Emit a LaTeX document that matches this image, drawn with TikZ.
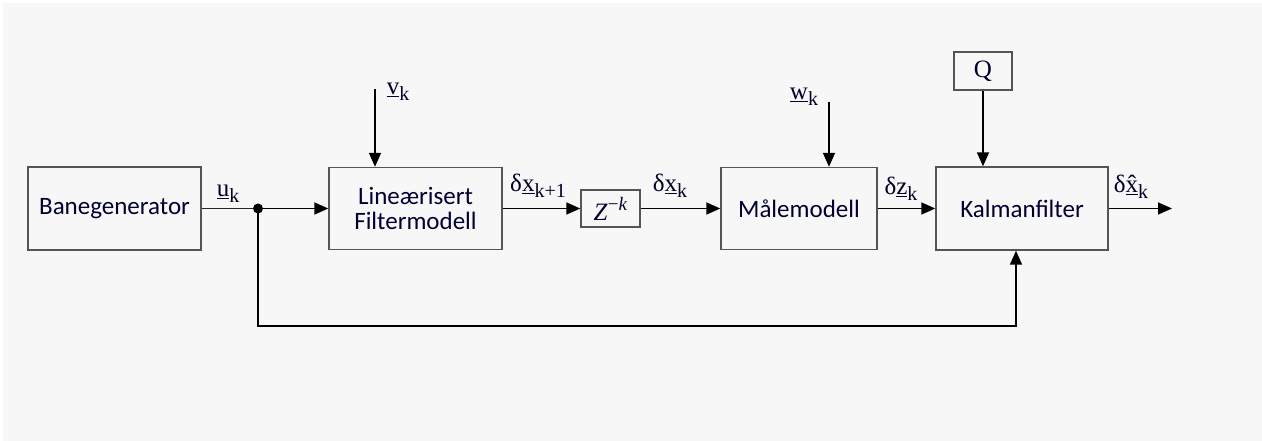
\documentclass[tikz,border=0pt]{standalone}
\usepackage{fontspec}
\setmainfont{Carlito}
\newfontfamily\labfont{Liberation Serif}
\usetikzlibrary{arrows.meta}
\definecolor{bg}{HTML}{F7F7F7}
\definecolor{boxline}{HTML}{555555}
\tikzset{
  blk/.style={draw=boxline, line width=1.4pt, fill=bg, minimum width=#1, inner sep=0pt,
     font=\fontsize{25}{25.5}\selectfont, text=black!80!blue, align=center},
  sig/.style={draw=black, line width=1.6pt, -{Triangle[length=14pt,width=12pt]}},
  wire/.style={draw=black!85, line width=1.6pt},
  lab/.style={font=\labfont\fontsize{25}{26}\selectfont, inner sep=0pt, text=black!85!blue},
}
\newcommand{\sbk}[1]{\raisebox{-0.25em}{\fontsize{20}{21}\selectfont #1}}
\begin{document}
\begin{tikzpicture}[x=1pt,y=-1pt]
\fill[white] (0,0) rectangle (1262,441);
\fill[bg] (3,3) rectangle (1262,441);
\useasboundingbox (0,0) rectangle (1262,441);

\node[blk=173pt, minimum height=83pt] (gen) at (114.5,208.5) {Banegenerator};
\node[blk=173pt, minimum height=82pt] (lin) at (415.5,208.5) {Lineærisert\\Filtermodell};
\node[blk=59pt, minimum height=37pt, font=\labfont\fontsize{25}{26}\selectfont] (z) at (610.5,208.5) {\textit{Z}\raisebox{0.4em}{\fontsize{19}{20}\selectfont −\textit{k}}};
\node[blk=156pt, minimum height=82pt] (maal) at (799,208.5) {Målemodell};
\node[blk=172pt, minimum height=83pt] (kal) at (1022,208.5) {Kalmanfilter};
\node[blk=58pt, minimum height=38pt, font=\labfont\fontsize{25}{26}\selectfont] (q) at (983,71) {Q};

\coordinate (dot) at (258,208.5);
\coordinate (vtop) at (375,89);
\coordinate (wtop) at (829,102);
\coordinate (out) at (1172,208.5);
\coordinate (fb1) at (258,326);
\coordinate (fb2) at (1016,326);

\draw[wire] (gen.east) -- (dot);
\draw[sig] (dot) -- (lin.west);
\draw[sig] (lin.east) -- (z.west);
\draw[sig] (z.east) -- (maal.west);
\draw[sig] (maal.east) -- (kal.west);
\draw[sig] (kal.east) -- (out);
\draw[sig] (vtop) -- (vtop |- lin.north);
\draw[sig] (wtop) -- (wtop |- maal.north);
\draw[sig] (q.south) -- (kal.north -| q.south);
\draw[sig] (dot) -- (fb1) -- (fb2) -- (fb2 |- kal.south);
\fill[black] (dot) circle (5pt);

\node[lab, anchor=south] at (228,203) {\underline{u}\sbk{k}};
\node[lab, anchor=south] at (398,101) {\underline{v}\sbk{k}};
\node[lab, anchor=south] at (538,198) {δ\underline{x}\sbk{k+1}};
\node[lab, anchor=south] at (670,198) {δ\underline{x}\sbk{k}};
\node[lab, anchor=south] at (804,106) {\underline{w}\sbk{k}};
\node[lab, anchor=south] at (901,201) {δ\underline{z}\sbk{k}};
\node[lab, anchor=south] at (1131,199) {δ\underline{x̂}\sbk{k}};
\end{tikzpicture}
\end{document}
